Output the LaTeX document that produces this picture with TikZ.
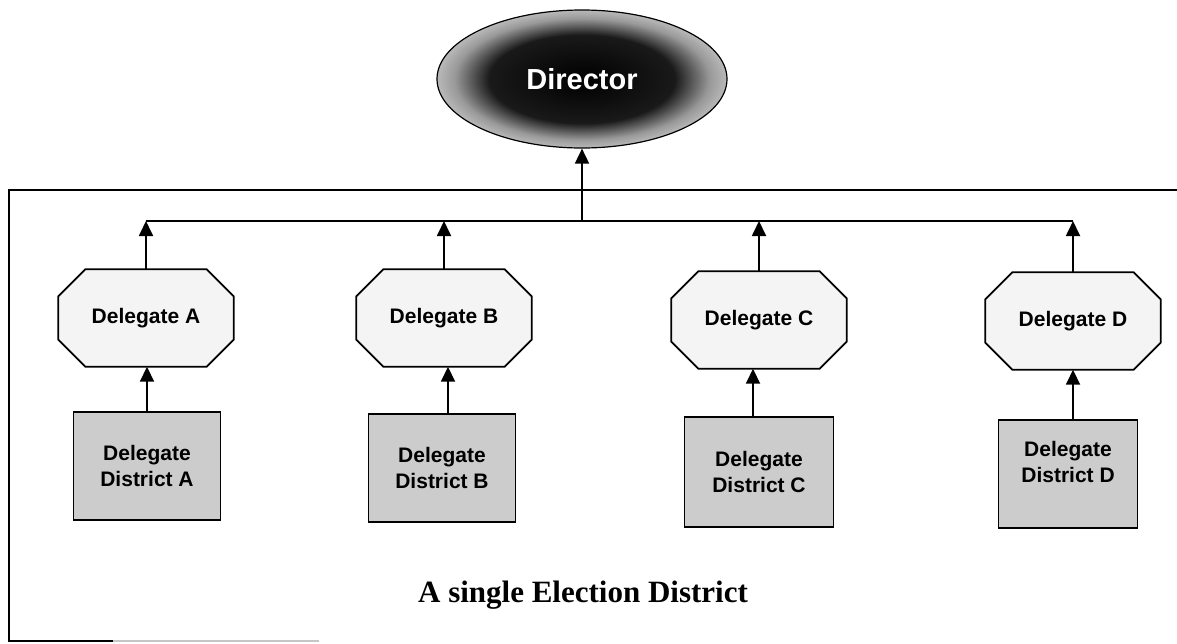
\documentclass[tikz,border=0pt]{standalone}
\usepackage{fontspec}
\setmainfont{Liberation Serif}
\newfontfamily\sansf{Liberation Sans}
\usetikzlibrary{arrows.meta,calc,backgrounds,shapes.geometric}
\pgfdeclareradialshading{dirshade}{\pgfpoint{0bp}{0bp}}{color(0bp)=(black); color(16bp)=(black!90); color(22bp)=(gray!80); color(25bp)=(gray!55); color(50bp)=(gray!55)}
\begin{document}
\begin{tikzpicture}[x=1pt,y=-1pt,
  arr/.style={line width=1.8pt,-{Triangle[length=15pt,width=14pt]}},
  conn/.style={line width=1.8pt},
  frame/.style={line width=2pt},
  octa/.style={minimum width=175pt,minimum height=97pt,inner sep=0pt,font=\sansf\bfseries\fontsize{21}{26}\selectfont},
  octline/.style={draw,line width=1.8pt,fill=gray!9},
  distbox/.style={draw,line width=1.8pt,fill=gray!40,minimum width=147pt,minimum height=108pt,inner sep=0pt},
  disttext/.style={align=center,inner sep=0pt,font=\sansf\bfseries\fontsize{21}{26}\selectfont},
  dirnode/.style={ellipse,draw,line width=1.2pt,shading=dirshade,minimum width=290pt,minimum height=138pt,inner sep=0pt,text=white,font=\sansf\bfseries\fontsize{29}{34}\selectfont},
  caption/.style={font=\bfseries\fontsize{31}{36}\selectfont,inner sep=0pt}]
\useasboundingbox (0,0) rectangle (1177,643);

% frame
\coordinate (fTR) at (1177,190);
\coordinate (fTL) at (9,190);
\coordinate (fBL) at (9,641);
\coordinate (fB1) at (113,641);
\coordinate (fB2) at (319,641);
\draw[frame] (fTR) -- (fTL) -- (fBL) -- (fB1);
\draw[line width=1.2pt,gray!45] (fB1) -- (fB2);

% director
\node[dirnode] (dir) at (582,79) {\raisebox{-2pt}{Director}};

% bus
\coordinate (bus) at (582,221);

% delegates (octagons)
\node[octa] (oA) at (146,318) {Delegate A};
\node[octa] (oB) at (444,318) {Delegate B};
\node[octa] (oC) at (759,320) {Delegate C};
\node[octa] (oD) at (1073,321) {Delegate D};
\begin{scope}[on background layer]
\foreach \n in {oA,oB,oC,oD}{
  \path[octline] ($(\n.north west)+(27,0)$) -- ($(\n.north east)+(-27,0)$) -- ($(\n.north east)+(0,27)$) -- ($(\n.south east)+(0,-27)$) -- ($(\n.south east)+(-27,0)$) -- ($(\n.south west)+(27,0)$) -- ($(\n.south west)+(0,-27)$) -- ($(\n.north west)+(0,27)$) -- cycle;
}
\end{scope}

% districts
\node[distbox] (dA) at (147,466) {};
\node[disttext] (tA) at (dA) {Delegate\\District A};
\node[distbox] (dB) at (442,468) {};
\node[disttext] (tB) at (dB) {Delegate\\District B};
\node[distbox,minimum width=149pt,minimum height=110pt] (dC) at (759,472) {};
\node[disttext] (tC) at (dC) {Delegate\\District C};
\node[distbox,minimum width=139pt] (dD) at (1068,474) {};
\node[disttext] (tD) at (1068,462) {Delegate\\District D};

% connectors
\draw[conn] (oA.north |- bus) -- (oD.north |- bus);
\draw[arr] (bus) -- (dir.south);
\foreach \n in {oA,oB,oC,oD}{
  \draw[arr] (\n.north) -- (\n.north |- bus);
}
\draw[arr] (dA.north) -- (dA.north |- oA.south);
\draw[arr] ([xshift=6pt]dB.north) -- ([xshift=6pt]dB.north |- oB.south);
\draw[arr] ([xshift=-6pt]dC.north) -- ([xshift=-6pt]dC.north |- oC.south);
\draw[arr] ([xshift=5pt]dD.north) -- ([xshift=5pt]dD.north |- oD.south);

% caption
\node[caption,anchor=base] (cap) at (583,602) {A single Election District};
\end{tikzpicture}
\end{document}
